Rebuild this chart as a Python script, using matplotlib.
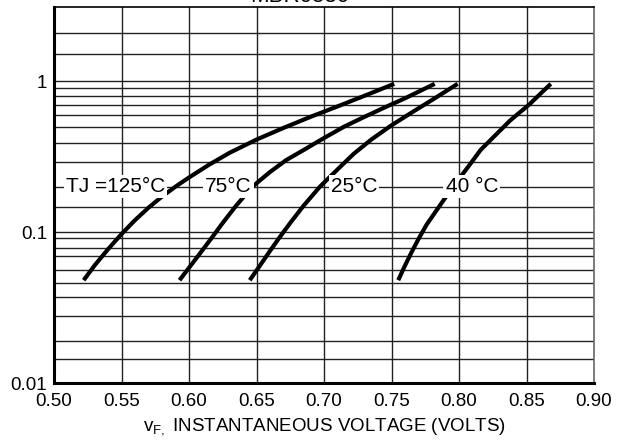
import matplotlib
matplotlib.use('Agg')
import matplotlib.pyplot as plt
import numpy as np

plt.rcParams['font.family'] = ['Liberation Sans', 'DejaVu Sans']

# forward voltage curves
v_125 = [0.522, 0.53, 0.54, 0.55, 0.56, 0.57, 0.58, 0.59, 0.60, 0.615, 0.63, 0.65, 0.67, 0.69, 0.71, 0.73, 0.752]
i_125 = [0.048, 0.060, 0.077, 0.097, 0.12, 0.145, 0.172, 0.20, 0.23, 0.28, 0.335, 0.41, 0.49, 0.58, 0.68, 0.80, 0.96]

v_75 = [0.593, 0.60, 0.607, 0.617, 0.625, 0.635, 0.647, 0.66, 0.672, 0.685, 0.70, 0.715, 0.73, 0.745, 0.76, 0.782]
i_75 = [0.048, 0.058, 0.07, 0.092, 0.115, 0.15, 0.20, 0.25, 0.30, 0.35, 0.42, 0.50, 0.58, 0.67, 0.77, 0.96]

v_25 = [0.645, 0.652, 0.66, 0.667, 0.675, 0.685, 0.697, 0.71, 0.722, 0.735, 0.75, 0.765, 0.78, 0.799]
i_25 = [0.048, 0.059, 0.075, 0.092, 0.115, 0.15, 0.20, 0.26, 0.33, 0.41, 0.51, 0.62, 0.75, 0.96]

v_40 = [0.755, 0.76, 0.765, 0.77, 0.776, 0.784, 0.792, 0.80, 0.808, 0.816, 0.826, 0.838, 0.852, 0.868]
i_40 = [0.048, 0.06, 0.074, 0.09, 0.112, 0.142, 0.18, 0.225, 0.28, 0.35, 0.43, 0.55, 0.70, 0.96]

curve_labels = ['TJ =125°C', '75°C', '25°C', '40 °C']
label_x = [0.509, 0.612, 0.705, 0.790]
label_y = 0.2

x_ticks = [0.50, 0.55, 0.60, 0.65, 0.70, 0.75, 0.80, 0.85, 0.90]
y_ticks = [0.01, 0.1, 1]
y_tick_labels = ['0.01', '0.1', '1']

# hand drawn grid lines of the original sheet
y_grid = [2.1, 1.52, 1.0, 0.9, 0.8, 0.7, 0.6, 0.5, 0.39, 0.29, 0.2, 0.146,
          0.1, 0.092, 0.079, 0.069, 0.056, 0.046, 0.037, 0.028, 0.019, 0.0144]

fig = plt.figure(figsize=(6.2, 4.43), dpi=100)
ax = fig.add_axes([54/620, 60/443, 540/620, 376/443])

ax.set_yscale('log')
ax.set_xlim(0.50, 0.90)
ax.set_ylim(0.01, 3.1)

for g in y_grid:
    ax.axhline(g, color='#222222', lw=1.0, zorder=1)
for x in x_ticks[1:-1]:
    ax.axvline(x, color='#222222', lw=1.0, zorder=1)

for v, i in [(v_125, i_125), (v_75, i_75), (v_25, i_25), (v_40, i_40)]:
    ax.plot(v, i, color='black', lw=3, solid_capstyle='butt', solid_joinstyle='round', zorder=3)

for lab, lx in zip(curve_labels, label_x):
    ax.text(lx, label_y, lab, fontsize=15, va='center', ha='left', zorder=4,
            bbox=dict(facecolor='white', edgecolor='none', pad=1.5))

ax.set_xticks(x_ticks)
ax.set_xticklabels(['%.2f' % x for x in x_ticks])
ax.set_yticks(y_ticks)
ax.set_yticklabels(y_tick_labels)
ax.yaxis.set_minor_locator(matplotlib.ticker.NullLocator())
ax.tick_params(length=0, labelsize=13.5)
ax.tick_params(axis='x', pad=7)
ax.tick_params(axis='y', pad=5)

ax.spines['left'].set_linewidth(2.2)
ax.spines['bottom'].set_linewidth(2.2)
ax.spines['top'].set_linewidth(1.2)
ax.spines['right'].set_linewidth(1.2)
ax.spines['right'].set_color('#666666')

ax.set_xlabel(r'v$_\mathregular{F,}$ INSTANTANEOUS VOLTAGE (VOLTS)', fontsize=13.5, labelpad=5)

fig.text(300/620, 441/443, 'MBR0530', fontsize=16, ha='center', va='baseline')

fig.savefig('out.png', dpi=100)
